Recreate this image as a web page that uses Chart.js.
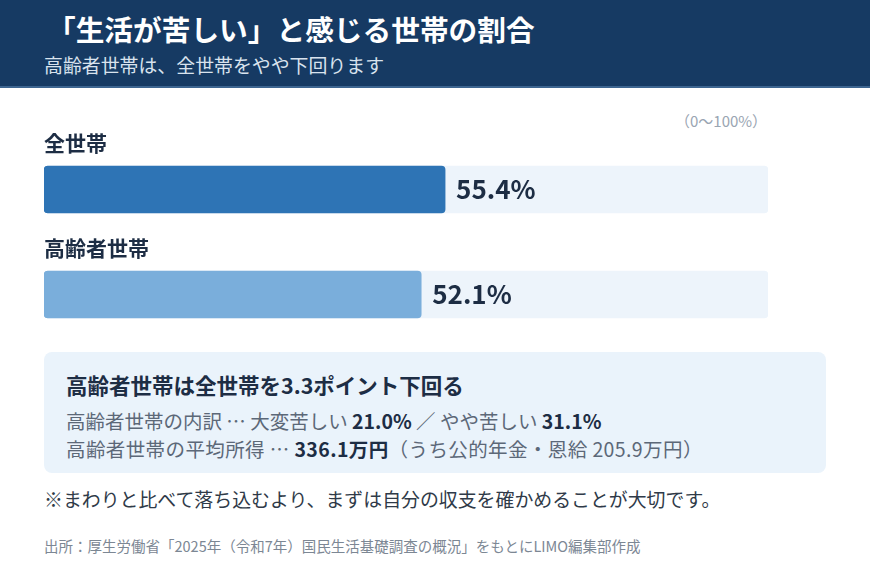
<!DOCTYPE html>
<html lang="ja">
<head>
<meta charset="utf-8">
<script src="https://cdn.jsdelivr.net/npm/chart.js@4"></script>
<style>
  body { margin: 0; width: 870px; height: 580px; background: #fff; font-family: "Noto Sans CJK JP", "Noto Sans", sans-serif; position: relative; overflow: hidden; }
  .head { position: absolute; left: 0; top: 0; width: 870px; height: 86px; background: #163a63; border-bottom: 2px solid #3d6590; }
  .title { position: absolute; left: 47px; top: 8px; color: #fff; font-size: 28.7px; font-weight: bold; white-space: nowrap; }
  .sub { position: absolute; left: 44px; top: 51px; color: #d9e3ee; font-size: 18.9px; white-space: nowrap; }
  .range { position: absolute; left: 675px; top: 110px; color: #9aa5b2; font-size: 15px; }
  #wrap { position: absolute; left: 44px; top: 117px; width: 724px; height: 230px; }
  .box { position: absolute; left: 44px; top: 352px; width: 782px; height: 121px; background: #eaf3fb; border-radius: 8px; }
  .box .h { position: absolute; left: 22px; top: 17px; font-size: 21.5px; font-weight: bold; color: #1d2d44; white-space: nowrap; }
  .box .l { position: absolute; left: 22px; font-size: 19.5px; color: #5c6878; white-space: nowrap; }
  .box b { color: #1d2d44; }
  .note { position: absolute; left: 44px; top: 485px; font-size: 18.9px; color: #2f3a48; white-space: nowrap; }
  .src { position: absolute; left: 44px; top: 535px; font-size: 14.5px; color: #7c8794; white-space: nowrap; }
</style>
</head>
<body>
<div class="head">
  <div class="title">「生活が苦しい」と感じる世帯の割合</div>
  <div class="sub">高齢者世帯は、全世帯をやや下回ります</div>
</div>
<div class="range">（0〜100%）</div>
<div id="wrap"><canvas id="bars" width="724" height="230"></canvas></div>
<div class="box">
  <div class="h">高齢者世帯は全世帯を3.3ポイント下回る</div>
  <div class="l" style="top:54px">高齢者世帯の内訳 … 大変苦しい <b>21.0%</b> ／ やや苦しい <b>31.1%</b></div>
  <div class="l" style="top:82px; letter-spacing:0.4px">高齢者世帯の平均所得 … <b>336.1万円</b>（うち公的年金・恩給 205.9万円）</div>
</div>
<div class="note">※まわりと比べて落ち込むより、まずは自分の収支を確かめることが大切です。</div>
<div class="src">出所：厚生労働省「2025年（令和7年）国民生活基礎調査の概況」をもとにLIMO編集部作成</div>
<script>
const categories = ['全世帯', '高齢者世帯'];
const shares = [55.4, 52.1];
const fullScale = [100, 100];
const barColors = ['#2e74b5', '#7aaedb'];

// category name above each bar, value right of its end
const barText = {
  id: 'barText',
  afterDatasetsDraw(chart) {
    const c = chart.ctx;
    const meta = chart.getDatasetMeta(1);
    c.save();
    meta.data.forEach((bar, i) => {
      const top = bar.y - bar.height / 2;
      c.fillStyle = '#1d2d44';
      c.textBaseline = 'middle';
      c.textAlign = 'left';
      c.font = 'bold 21px "Noto Sans CJK JP"';
      c.fillText(categories[i], 0, top - 23);
      c.font = 'bold 26px "Noto Sans CJK JP"';
      c.fillText(shares[i].toFixed(1) + '%', bar.x + 11, bar.y);
    });
    c.restore();
  }
};

new Chart(document.getElementById('bars'), {
  type: 'bar',
  data: {
    labels: categories,
    datasets: [{
      data: fullScale,
      backgroundColor: '#edf4fb',
      borderRadius: 4,
      borderSkipped: false,
      barThickness: 47,
      grouped: false,
      order: 2
    }, {
      data: shares,
      backgroundColor: barColors,
      borderRadius: 4,
      borderSkipped: false,
      barThickness: 47,
      grouped: false,
      order: 1
    }]
  },
  options: {
    indexAxis: 'y',
    responsive: false,
    animation: false,
    layout: { padding: { top: 20 } },
    plugins: { legend: { display: false }, tooltip: { enabled: false } },
    scales: {
      x: { display: false, min: 0, max: 100 },
      y: { display: false }
    }
  },
  plugins: [barText]
});
</script>
</body>
</html>
